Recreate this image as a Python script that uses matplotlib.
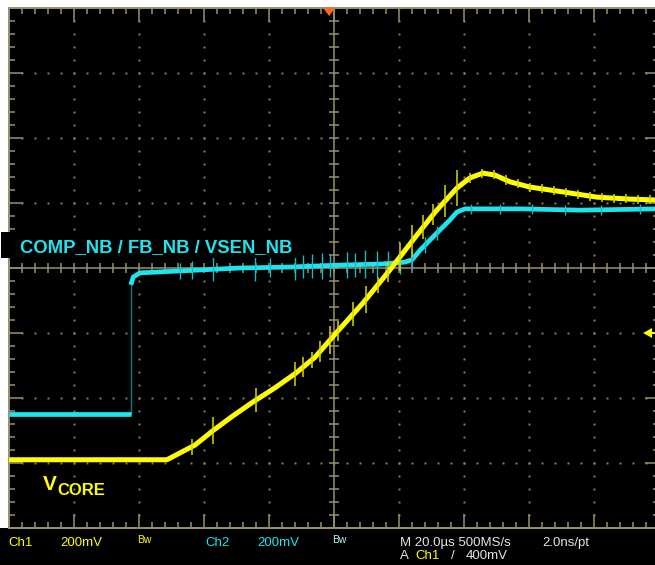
import matplotlib
matplotlib.use('Agg')
import matplotlib.pyplot as plt
import numpy as np
from matplotlib.patches import Rectangle, Polygon

# Scope settings
time_per_div = 20.0     # us
volt_per_div = 0.2      # V (both channels)
ch2_offset = -0.2       # V, screen offset of Ch2 relative to Ch1 ground
trigger_level = 0.4     # V
trigger_time = -1.5     # us

# Ch1 = VCORE (yellow), time in us, volts
ch1_t = [-100, -51.4, -47.4, -42.8, -37.2, -31.1, -24.9, -18.2, -11.7, -5.8, 0.9,
         8.9, 17.2, 24.3, 31.1, 37.8, 41.8, 45.8, 49.5, 54.2, 60.3, 70.5, 80.9, 91.1, 100]
ch1_v = [0.010, 0.010, 0.031, 0.055, 0.100, 0.145, 0.188, 0.231, 0.277, 0.326, 0.403,
         0.492, 0.594, 0.686, 0.772, 0.846, 0.877, 0.892, 0.886, 0.865, 0.849, 0.834,
         0.818, 0.812, 0.809]

# Ch2 = COMP_NB / FB_NB / VSEN_NB (cyan)
ch2_pre_t = [-100, -62.5]
ch2_pre_v = [0.351, 0.351]
ch2_step_t = [-62.5, -62.5]
ch2_step_v = [0.351, 0.748]
ch2_t = [-62.5, -61.8, -59.7, -53.5, -41.2, -28.9, -13.5, 1.8, 14.2, 21.8, 24.0,
         26.5, 31.1, 35.7, 37.8, 40.3, 57.2, 75.7, 100]
ch2_v = [0.748, 0.772, 0.785, 0.788, 0.794, 0.800, 0.803, 0.809, 0.812, 0.818, 0.825,
         0.855, 0.902, 0.948, 0.972, 0.982, 0.982, 0.978, 0.982]

# switching spikes (time us, half-height mV)
ch1_spike_t = [-43.7, -37.2, -24.0, -12.0, -9.5, -6.8, -4.3, -1.2, 1.2, 5.8, 9.8,
               13.5, 16.6, 20.3, 24.0, 27.4, 30.5, 34.2, 37.8,
               41.8, 45.5, 49.2, 52.9, 56.6, 60.3, 64.0, 67.7, 71.4, 75.1, 78.8,
               82.5, 86.2, 89.8, 93.5, 97.2]
ch1_spike_mv = [25, 43, 37, 37, 31, 25, 31, 43, 31, 37, 43,
                25, 31, 43, 49, 37, 31, 49, 55,
                14, 14, 14, 14, 14, 14, 14, 14, 14, 14, 14,
                14, 14, 14, 14, 14]
ch2_spike_t = [-47.4, -43.7, -37.2, -24.3, -19.7, -12.0, -9.5, -6.8, -3.7, -1.2,
               4.0, 6.5, 9.5, 13.2, 16.6, 20.3, 24.0, 28.0, 31.7,
               42.0, 51.0, 61.0, 71.0, 82.0, 94.0]
ch2_spike_mv = [25, 28, 37, 40, 30, 40, 34, 37, 40, 34,
                40, 37, 43, 40, 37, 34, 28, 25, 22,
                15, 15, 15, 15, 15, 15]

W, H = 655, 565
YEL = '#ffff00'
CYA = '#1ee4ee'
GRID = '#97916f'
DOT = '#8a8466'

fig = plt.figure(figsize=(W / 100, H / 100), dpi=100, facecolor='white')
ax = fig.add_axes([9 / W, 37 / H, 650 / W, 520 / H])
ax.set_facecolor('black')
xmin, xmax = -5 * time_per_div, 5 * time_per_div
ymin, ymax = -volt_per_div, 7 * volt_per_div
ax.set_xlim(xmin, xmax)
ax.set_ylim(ymin, ymax)

# status bar background
fig.add_artist(Rectangle((0, 0), 1, 37 / H, transform=fig.transFigure,
                         facecolor='black', edgecolor='none', zorder=-1))

# graticule
for s in ax.spines.values():
    s.set_color(GRID)
    s.set_linewidth(1.4)
ax.set_xticks(np.arange(xmin, xmax + 1, time_per_div))
ax.set_xticks(np.arange(xmin, xmax + 0.1, time_per_div / 5), minor=True)
ax.set_yticks(np.arange(ymin, ymax + 0.01, volt_per_div))
ax.set_yticks(np.arange(ymin, ymax + 0.001, volt_per_div / 5), minor=True)
ax.tick_params(which='both', direction='in', top=True, right=True,
               labelbottom=False, labelleft=False, color=GRID, width=1.1)
ax.tick_params(which='major', length=10)
ax.tick_params(which='minor', length=4.3)

xc, yc = 0.0, 3 * volt_per_div
ax.axhline(yc, color=GRID, lw=1.1, zorder=1)
ax.axvline(xc, color=GRID, lw=1.1, zorder=1)
xminor = np.arange(xmin, xmax + 0.1, time_per_div / 5)
yminor = np.arange(ymin, ymax + 0.001, volt_per_div / 5)
ax.plot(xminor, np.full_like(xminor, yc), ls='none', marker='|', ms=7.5,
        mew=1.1, color=GRID, zorder=1)
ax.plot(np.full_like(yminor, xc), yminor, ls='none', marker='_', ms=7.5,
        mew=1.1, color=GRID, zorder=1)
for gx in np.arange(xmin + time_per_div, xmax, time_per_div):
    if abs(gx - xc) > 1e-6:
        ax.plot(np.full_like(yminor, gx), yminor, ls='none', marker='s', ms=1.4,
                mew=0, color=DOT, zorder=1)
for gy in np.arange(ymin + volt_per_div, ymax - 0.01, volt_per_div):
    if abs(gy - yc) > 1e-6:
        ax.plot(xminor, np.full_like(xminor, gy), ls='none', marker='s', ms=1.4,
                mew=0, color=DOT, zorder=1)

# Ch2 trace
c2pre = np.array(ch2_pre_v) + ch2_offset
c2 = np.array(ch2_v) + ch2_offset
ax.plot(ch2_step_t, np.array(ch2_step_v) + ch2_offset, color='#137c82', lw=1.0, zorder=3)
ax.plot(ch2_pre_t, c2pre, color=CYA, lw=3.4, solid_capstyle='butt', zorder=3)
ax.plot(ch2_t, c2, color=CYA, lw=3.4, solid_capstyle='butt',
        solid_joinstyle='round', zorder=3)
base2 = np.interp(ch2_spike_t, ch2_t, c2)
amp2 = np.array(ch2_spike_mv) / 1000
ax.vlines(ch2_spike_t, base2 - amp2, base2 + amp2, color='#19b8c2', lw=1.0, zorder=3)

# Ch1 trace
ax.plot(ch1_t, ch1_v, color=YEL, lw=3.6, solid_capstyle='butt',
        solid_joinstyle='round', zorder=4)
base1 = np.interp(ch1_spike_t, ch1_t, ch1_v)
amp1 = np.array(ch1_spike_mv) / 1000
ax.vlines(ch1_spike_t, base1 - amp1, base1 + amp1, color='#d8d800', lw=1.1, zorder=4)

# trigger position marker (top) and trigger level arrow (right)
px_t = time_per_div / 65
px_v = volt_per_div / 65
ax.add_patch(Polygon([(trigger_time - 6 * px_t, ymax), (trigger_time + 6 * px_t, ymax),
                      (trigger_time, ymax - 8 * px_v)], closed=True,
                     facecolor='#ff6a1a', edgecolor='none', clip_on=False, zorder=6))
tip = 95.1
ax.add_patch(Polygon([(tip, trigger_level), (tip + 9 * px_t, trigger_level + 5 * px_v),
                      (tip + 9 * px_t, trigger_level - 5 * px_v)], closed=True,
                     facecolor=YEL, edgecolor='none', zorder=6))
ax.plot([tip + 8 * px_t, xmax], [trigger_level, trigger_level], color=YEL, lw=1.3, zorder=6)


def ftext(x, y, s, **kw):
    fig.text(x / W, 1 - y / H, s, **kw)


# channel labels
fig.add_artist(Rectangle((1 / W, 1 - 258 / H), 299 / W, 26 / H, transform=fig.transFigure,
                         facecolor='black', edgecolor='none', zorder=5))
lab = dict(family=['Liberation Sans', 'DejaVu Sans'], weight='bold', va='baseline',
           ha='left', zorder=6)
ftext(20, 252, 'COMP_NB / FB_NB / VSEN_NB', color=CYA, fontsize=13.3, **lab)
ftext(43, 490, 'V', color=YEL, fontsize=15, **lab)
ftext(57, 495, 'CORE', color=YEL, fontsize=12, **lab)

# status bar
sb = dict(family=['Liberation Sans Narrow', 'Liberation Sans'], va='baseline',
          ha='left', fontsize=9.5)
WHT = '#e4e4e4'
row1 = [(8, 'Ch1', YEL), (60, '200mV', YEL), (205, 'Ch2', CYA), (257, '200mV', CYA),
        (400, 'M 20.0µs 500MS/s', WHT), (542, '2.0ns/pt', WHT)]
for x, s, c in row1:
    ftext(x, 546, s, color=c, **sb)
ftext(137, 543, 'Bw', color=YEL, family=['Liberation Sans Narrow', 'Liberation Sans'],
      fontsize=7.5, va='baseline')
ftext(332, 543, 'Bw', color='#b8f4f4', family=['Liberation Sans Narrow', 'Liberation Sans'],
      fontsize=7.5, va='baseline')
row2 = [(400, 'A', WHT), (415, 'Ch1', YEL), (451, '/', WHT), (466, '400mV', WHT)]
for x, s, c in row2:
    ftext(x, 559, s, color=c, **sb)

plt.savefig('out.png', dpi=100, facecolor=fig.get_facecolor())
